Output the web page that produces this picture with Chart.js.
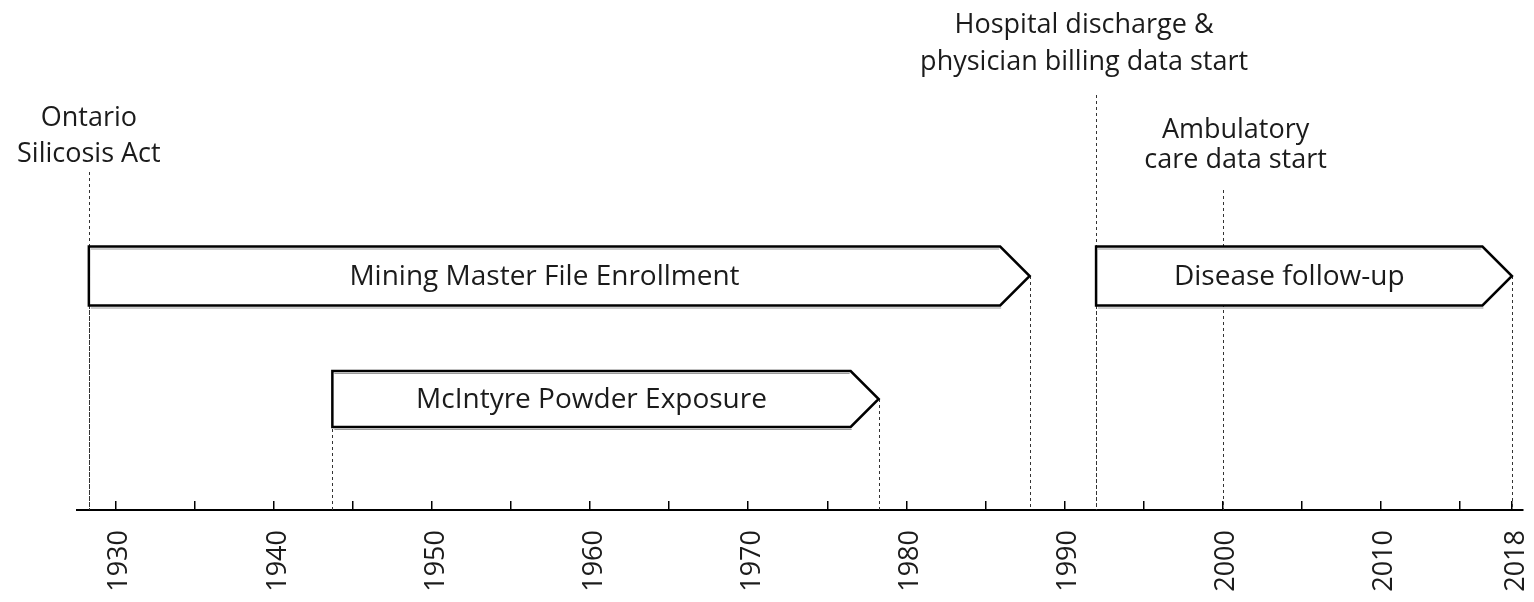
<!DOCTYPE html>
<html>
<head>
<meta charset="utf-8">
<script src="https://cdn.jsdelivr.net/npm/chart.js@4/dist/chart.umd.min.js"></script>
<style>
html, body { margin:0; padding:0; background:#fff; }
#wrap { width:1534px; height:602px; position:relative; }
</style>
</head>
<body>
<div id="wrap"><canvas id="c"></canvas></div>
<script>
// data ====================================================================================
const phaseNames = ['Mining Master File Enrollment', 'McIntyre Powder Exposure', 'Disease follow-up']
const phaseStart = [1928.3, 1943.7, 1992.0]
const phaseEnd   = [1987.8, 1978.25, 2018.3]
const phaseLane  = [0, 1, 0]

const eventNames = [['Ontario', 'Silicosis Act'], ['Hospital discharge &', 'physician billing data start'], ['Ambulatory', 'care data start']]
const eventYears = [1928.3, 1992.0, 2000.0]

const tickValues = [1930, 1935, 1940, 1945, 1950, 1955, 1960, 1965, 1970, 1975, 1980, 1985, 1990, 1995, 2000, 2005, 2010, 2015, 2018.3]
const tickLabels = ['1930', '', '1940', '', '1950', '', '1960', '', '1970', '', '1980', '', '1990', '', '2000', '', '2010', '', '2018']

// layout (pixels, y scale runs 0..510 top to bottom) =========================================
const laneY = [276, 399]
const laneH = [59, 56]
const evText = [{dx:0, y:[126, 162]}, {dx:-12, y:[33, 70]}, {dx:13, y:[138, 168]}]
const evLineTop = [172, 95, 190]
const evFont = '27px "Open Sans"'
const barFont = '28px "Open Sans"'
const ink = '#1b1b1b'

const dashed = (ctx, x, y1, y2) => {
	ctx.save()
	ctx.setLineDash([3, 3])
	ctx.strokeStyle = '#333'
	ctx.lineWidth = 1
	ctx.beginPath()
	ctx.moveTo(x, y1)
	ctx.lineTo(x, y2)
	ctx.stroke()
	ctx.restore()
}

const timeline = {
	id: 'timeline',
	beforeDatasetsDraw(chart) {
		const ctx = chart.ctx, xs = chart.scales.x, ys = chart.scales.y, bottom = chart.chartArea.bottom
		eventYears.forEach((v, i) => dashed(ctx, Math.round(xs.getPixelForValue(v)) + 0.5, evLineTop[i], bottom))
		phaseNames.forEach((_, i) => {
			const y = ys.getPixelForValue(laneY[phaseLane[i]])
			dashed(ctx, Math.round(xs.getPixelForValue(phaseStart[i])) + 0.5, y, bottom)
			dashed(ctx, Math.round(xs.getPixelForValue(phaseEnd[i])) + 0.5, y, bottom)
		})
		ctx.save()
		ctx.font = evFont
		ctx.fillStyle = ink
		ctx.textAlign = 'center'
		ctx.textBaseline = 'alphabetic'
		eventNames.forEach((lines, i) => {
			const x = xs.getPixelForValue(eventYears[i]) + evText[i].dx
			lines.forEach((t, j) => ctx.fillText(t, x, evText[i].y[j]))
		})
		ctx.restore()
	},
	afterDatasetsDraw(chart) {
		const ctx = chart.ctx
		ctx.save()
		chart.data.datasets.forEach((ds, d) => {
			chart.getDatasetMeta(d).data.forEach((bar, k) => {
				const {x, y, base, height} = bar.getProps(['x', 'y', 'base', 'height'], true)
				const top = y - height / 2, bot = y + height / 2, head = height / 2
				ctx.beginPath()
				ctx.moveTo(base, top)
				ctx.lineTo(x - head, top)
				ctx.lineTo(x, y)
				ctx.lineTo(x - head, bot)
				ctx.lineTo(base, bot)
				ctx.closePath()
				ctx.fillStyle = '#fff'
				ctx.fill()
				// faint inner shade under the top and bottom edges
				ctx.strokeStyle = '#9a9a9a'
				ctx.lineWidth = 1
				ctx.beginPath()
				ctx.moveTo(base + 2, top + 2.5); ctx.lineTo(x - head - 1, top + 2.5)
				ctx.moveTo(base + 2, bot + 2.5); ctx.lineTo(x - head + 1, bot + 2.5)
				ctx.stroke()
				ctx.beginPath()
				ctx.moveTo(base, top)
				ctx.lineTo(x - head, top)
				ctx.lineTo(x, y)
				ctx.lineTo(x - head, bot)
				ctx.lineTo(base, bot)
				ctx.closePath()
				ctx.lineWidth = 2.5
				ctx.lineJoin = 'miter'
				ctx.strokeStyle = '#000'
				ctx.stroke()
				ctx.font = barFont
				ctx.fillStyle = ink
				ctx.textAlign = 'center'
				ctx.textBaseline = 'middle'
				ctx.fillText(ds.names[k], (base + x - head) / 2, y + 1)
			})
		})
		ctx.restore()
	}
}

const lanes = laneY.map((_, l) => {
	const idx = phaseNames.map((_, i) => i).filter(i => phaseLane[i] === l)
	return {
		data: idx.map(i => ({x:[phaseStart[i], phaseEnd[i]], y:laneY[l]})),
		names: idx.map(i => phaseNames[i]),
		barThickness: laneH[l],
		grouped: false,
		backgroundColor: 'rgba(0,0,0,0)',
		borderWidth: 0,
	}
})

new Chart(document.getElementById('c'), {
	type: 'bar',
	data: { datasets: lanes },
	plugins: [timeline],
	options: {
		responsive: true,
		maintainAspectRatio: false,
		animation: false,
		indexAxis: 'y',
		layout: { padding: { left:77, right:11, top:0, bottom:0 } },
		plugins: { legend: { display:false }, tooltip: { enabled:false } },
		scales: {
			y: { type:'linear', min:0, max:510, reverse:true, offset:false, display:false },
			x: {
				type: 'linear',
				min: 1927.55,
				max: 2019.0,
				afterBuildTicks: s => { s.ticks = tickValues.map(v => ({value:v})) },
				afterFit: s => { s.height = 92; s.paddingLeft = 0; s.paddingRight = 0 },
				border: { display:true, color:'#000', width:2 },
				grid: { drawOnChartArea:false, drawTicks:true, tickLength:-9, color:'#000', lineWidth:1.5 },
				ticks: {
					autoSkip: false,
					maxRotation: 90,
					minRotation: 90,
					padding: 29,
					labelOffset: 4,
					color: ink,
					font: { family:'Open Sans', size:27 },
					callback: (v, i) => tickLabels[i],
				},
			},
		},
	},
})
</script>
</body>
</html>
